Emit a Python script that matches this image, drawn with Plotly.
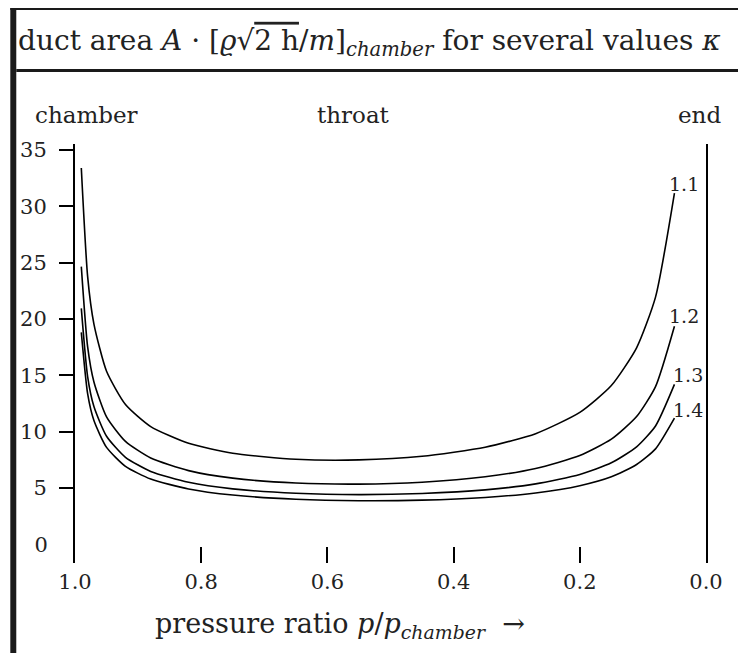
import plotly.graph_objects as go

# ---- data ----
pressure_ratio = [0.99, 0.98, 0.97, 0.95, 0.92, 0.88, 0.82, 0.75, 0.65, 0.55,
                  0.45, 0.35, 0.27, 0.20, 0.15, 0.11, 0.08, 0.05]
area_k11 = [33.40, 23.78, 19.55, 15.36, 12.41, 10.45, 8.96, 8.08, 7.55, 7.49,
            7.81, 8.61, 9.82, 11.71, 14.09, 17.44, 21.94, 31.18]
area_k12 = [24.65, 17.54, 14.41, 11.31, 9.13, 7.66, 6.54, 5.87, 5.44, 5.34,
            5.51, 5.99, 6.73, 7.88, 9.33, 11.34, 14.00, 19.36]
area_k13 = [20.94, 14.89, 12.23, 9.59, 7.72, 6.47, 5.51, 4.92, 4.53, 4.41,
            4.51, 4.83, 5.36, 6.19, 7.23, 8.65, 10.50, 14.19]
area_k14 = [18.81, 13.37, 10.98, 8.60, 6.92, 5.79, 4.91, 4.37, 4.00, 3.87,
            3.92, 4.16, 4.56, 5.20, 5.99, 7.08, 8.47, 11.20]
kappa_labels = ["1.1", "1.2", "1.3", "1.4"]
series = [area_k11, area_k12, area_k13, area_k14]

x_ticks = [1.0, 0.8, 0.6, 0.4, 0.2, 0.0]
x_ticktext = ["1.0", "0.8", "0.6", "0.4", "0.2", "0.0"]
y_ticks = [5, 10, 15, 20, 25, 30, 35]

OFF = 8                      # page body margin
W, H = 746 - OFF, 653 - OFF
PX_L, PX_R, PX_T, PX_B = 72, 706, 144, 563   # plot area in page pixels
L, T = PX_L - OFF, PX_T - OFF
R = W - L - (PX_R - PX_L)
B = H - T - (PX_B - PX_T)
FONT = "DejaVu Serif"

fig = go.Figure()
for vals in series:
    fig.add_trace(go.Scatter(x=pressure_ratio, y=vals, mode="lines",
                             line=dict(color="black", width=1.6, shape="spline", smoothing=0.6),
                             showlegend=False, hoverinfo="skip"))
# invisible trace for the secondary axis carrying the "0" label
fig.add_trace(go.Scatter(x=[None], y=[None], yaxis="y2", showlegend=False))

# curve labels
label_shift = [(10, 9), (10, 10), (14, 9), (14, 8)]
for lab, vals, (dx, dy) in zip(kappa_labels, series, label_shift):
    fig.add_annotation(x=pressure_ratio[-1], y=vals[-1], text=lab, showarrow=False,
                       xanchor="center", yanchor="middle", xshift=dx, yshift=dy,
                       font=dict(family=FONT, size=19, color="#222"))

def px_x(px):
    return (px - PX_L) / (PX_R - PX_L)

def px_y(py):
    return (PX_B - py) / (PX_B - PX_T)

# top labels
for txt, px in [("chamber", 84), ("throat", 352), ("end", 699)]:
    fig.add_annotation(x=px_x(px), y=px_y(115), xref="paper", yref="paper", text=txt,
                       showarrow=False, xanchor="center", yanchor="middle",
                       font=dict(family=FONT, size=23, color="#222"))

# x-axis title
fig.add_annotation(x=px_x(150), y=px_y(625), xref="paper", yref="paper",
                   text="pressure ratio <i>p</i>/<i>p</i><sub><i>chamber</i></sub>  →",
                   showarrow=False, xanchor="left", yanchor="middle",
                   font=dict(family=FONT, size=27, color="#222"))

# frame
shapes = [
    dict(type="rect", x0=px_x(7), x1=px_x(13), y0=px_y(4), y1=px_y(700)),
    dict(type="rect", x0=px_x(7), x1=px_x(800), y0=px_y(4), y1=px_y(10)),
    dict(type="rect", x0=px_x(13), x1=px_x(800), y0=px_y(69), y1=px_y(72)),
]
for s in shapes:
    s.update(xref="paper", yref="paper", fillcolor="#1a1a1a", line=dict(width=0), layer="above")
fig.update_layout(shapes=shapes)

yrange = [-1.66, 35.53]
fig.update_layout(
    width=W, height=H,
    margin=dict(l=L, r=R, t=T, b=B, pad=0),
    paper_bgcolor="white", plot_bgcolor="white",
    font=dict(family=FONT, size=21, color="#222"),
    title=dict(
        text="duct area <i>A</i> · [<i>ϱ</i>√<span style='text-decoration:overline'>2 h</span>/<i>m</i>]<sub><i>chamber</i></sub> for several values <i>κ</i>",
        x=(18 - OFF) / W, xref="container", xanchor="left",
        y=1 - (40 - OFF) / H, yref="container", yanchor="middle",
        font=dict(family=FONT, size=28, color="#222")),
    xaxis=dict(range=[1.0, 0.0], tickvals=x_ticks, ticktext=x_ticktext,
               ticks="inside", ticklen=16, tickwidth=2, tickcolor="black",
               showline=False, showgrid=False, zeroline=False,
               ticklabelstandoff=4),
    yaxis=dict(range=yrange, tickvals=y_ticks, ticks="outside", ticklen=14,
               tickwidth=2, tickcolor="black", showline=True, linewidth=2,
               linecolor="black", mirror=True, showgrid=False, zeroline=False,
               ticklabelstandoff=8),
    yaxis2=dict(range=yrange, overlaying="y", side="left", tickvals=[0],
                ticks="outside", ticklen=14, tickcolor="rgba(0,0,0,0)",
                showline=False, showgrid=False, zeroline=False,
                ticklabelstandoff=8),
)

fig.write_html("out.html")
